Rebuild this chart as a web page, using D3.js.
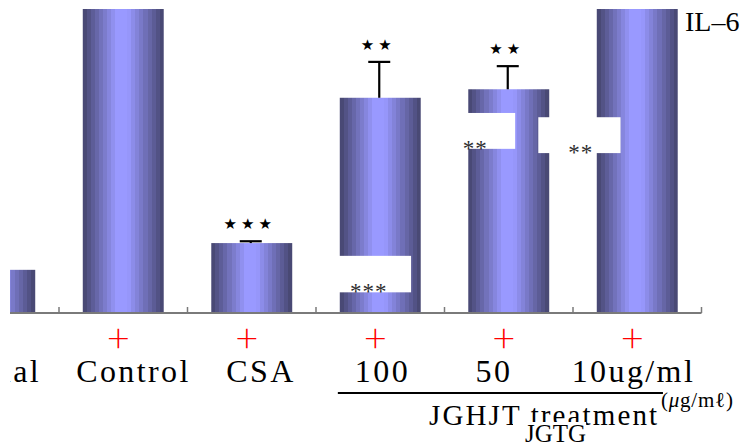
<!DOCTYPE html>
<html>
<head>
<meta charset="utf-8">
<title>IL-6</title>
<script src="https://cdn.jsdelivr.net/npm/d3@7"></script>
<style>
body { margin: 0; background: #fff; }
svg text { font-family: "Liberation Serif", "Times New Roman", serif; }
</style>
</head>
<body>
<svg id="chart" width="742" height="448"></svg>
<script>
// IL-6 levels (no y axis is shown, so arbitrary units)
var categories = ["Normal", "Control", "CSA", "100", "50", "10ug/ml"];
var il6 = [71, 600, 115, 354, 368, 560];
var il6Err = [0, 0, 3, 59, 38, 0];
var sigTop = ["", "", "***", "**", "**", ""];
var stimulated = ["", "+", "+", "+", "+", "+"];

var W = 742, H = 448;
var baseY = 313, topY = 9, leftX = 10;

var svg = d3.select("#chart");

var x = d3.scaleBand().domain(categories).range([-69.5, 701.5]).padding(0);
var y = d3.scaleLinear().domain([0, 500]).range([baseY, topY]);
var bw = x.bandwidth();
var barW = bw * 0.63;
function cx(c) { return x(c) + bw / 2; }

// cylinder-ish stepped shading
var defs = svg.append("defs");
var grad = defs.append("linearGradient").attr("id", "cyl")
  .attr("x1", 0).attr("x2", 1).attr("y1", 0).attr("y2", 0);
var shade = d3.interpolateRgb("#44446c", "#9999ff");
var steps = 20;
for (var i = 0; i < steps; i++) {
  var t = (i + 0.5) / steps;
  var f = t < 0.42 ? t / 0.42 : (t > 0.56 ? (1 - t) / 0.44 : 1);
  var col = shade(f);
  grad.append("stop").attr("offset", i / steps).attr("stop-color", col);
  grad.append("stop").attr("offset", (i + 1) / steps).attr("stop-color", col);
}
// the figure is cropped on the left at x=10
defs.append("clipPath").attr("id", "plot").append("rect")
  .attr("x", leftX).attr("y", topY).attr("width", W - leftX).attr("height", baseY - topY);
defs.append("clipPath").attr("id", "crop").append("rect")
  .attr("x", leftX).attr("y", 0).attr("width", W - leftX).attr("height", H);

var rows = categories.map(function(c, i) {
  return {cat: c, v: il6[i], e: il6Err[i], sig: sigTop[i], plus: stimulated[i]};
});

// bars
svg.append("g").attr("clip-path", "url(#plot)")
  .selectAll("rect").data(rows).enter().append("rect")
  .attr("x", function(d) { return cx(d.cat) - barW / 2; })
  .attr("y", function(d) { return y(d.v); })
  .attr("width", barW)
  .attr("height", function(d) { return baseY - y(d.v); })
  .attr("fill", "url(#cyl)");

// error bars (upper only)
var eb = svg.append("g").attr("stroke", "#000").attr("stroke-width", 2.2)
  .selectAll("g").data(rows.filter(function(d) { return d.e > 0; })).enter().append("g");
eb.append("line")
  .attr("x1", function(d) { return cx(d.cat) - 1; }).attr("x2", function(d) { return cx(d.cat) - 1; })
  .attr("y1", function(d) { return y(d.v); }).attr("y2", function(d) { return y(d.v + d.e); });
eb.append("line")
  .attr("x1", function(d) { return cx(d.cat) - 12; }).attr("x2", function(d) { return cx(d.cat) + 10; })
  .attr("y1", function(d) { return y(d.v + d.e); }).attr("y2", function(d) { return y(d.v + d.e); });

// stars over error bars
svg.append("g").selectAll("text").data(rows.filter(function(d) { return d.sig; })).enter().append("text")
  .attr("x", function(d) { return cx(d.cat) - 2; })
  .attr("y", function(d) { return y(d.v + d.e) - 12; })
  .attr("text-anchor", "middle")
  .style("font-family", "DejaVu Sans")
  .style("font-size", "15px")
  .style("letter-spacing", "4px")
  .text(function(d) { return d.sig.replace(/\*/g, "\u2605"); });

// axis line + ticks between categories
svg.append("line")
  .attr("x1", leftX).attr("x2", x(categories[categories.length - 1]) + bw)
  .attr("y1", baseY).attr("y2", baseY)
  .attr("stroke", "#7a7a7a").attr("stroke-width", 2);
var tickX = categories.slice(1).map(function(c) { return x(c); });
tickX.push(x(categories[categories.length - 1]) + bw);
svg.append("g").selectAll("line").data(tickX).enter().append("line")
  .attr("x1", function(d) { return d; }).attr("x2", function(d) { return d; })
  .attr("y1", baseY).attr("y2", baseY - 6)
  .attr("stroke", "#7a7a7a").attr("stroke-width", 1.5);

// white patches pasted over the bars, each with its own small stars
var masks = [
  {cat: "100", x0: 0.17, x1: 0.74, v0: 94, v1: 34, sx: 0.41, stars: "***"},
  {cat: "50", x0: 0.11, x1: 0.55, v0: 329, v1: 270, sx: 0.24, stars: "**"},
  {cat: "10ug/ml", x0: -0.27, x1: 0.37, v0: 322, v1: 263, sx: 0.06, stars: "**"}
];
var mg = svg.append("g").selectAll("g").data(masks).enter().append("g");
mg.append("rect")
  .attr("x", function(d) { return x(d.cat) + d.x0 * bw; })
  .attr("y", function(d) { return y(d.v0); })
  .attr("width", function(d) { return (d.x1 - d.x0) * bw; })
  .attr("height", function(d) { return y(d.v1) - y(d.v0); })
  .attr("fill", "#fff");
mg.append("text")
  .attr("x", function(d) { return x(d.cat) + d.sx * bw; })
  .attr("y", function(d) { return y(d.v1) + 7; })
  .attr("text-anchor", "middle")
  .attr("fill", "#2e2e2e")
  .style("font-size", "23px")
  .style("letter-spacing", "1px")
  .text(function(d) { return d.stars; });

// red plus signs (thin)
svg.append("g").selectAll("text").data(rows.filter(function(d) { return d.plus; })).enter().append("text")
  .attr("x", function(d) { return cx(d.cat) - 5; })
  .attr("y", 352)
  .attr("text-anchor", "middle")
  .attr("fill", "#ff0000")
  .style("font-family", "Lato, 'DejaVu Sans', sans-serif")
  .style("font-size", "40px")
  .style("font-weight", "300")
  .text(function(d) { return d.plus; });

// category labels (hand-placed a little off centre in the original)
var labelNudge = {"Normal": -11, "Control": 9, "CSA": 8, "100": 1, "50": -16, "10ug/ml": -5};
svg.append("g").attr("clip-path", "url(#crop)")
  .selectAll("text").data(categories).enter().append("text")
  .attr("x", function(d) { return cx(d) + 1.2 + labelNudge[d]; })
  .attr("y", 382)
  .attr("text-anchor", "middle")
  .style("font-size", "32px")
  .style("letter-spacing", "2.4px")
  .text(function(d) { return d; });

// treatment bracket
var ulX0 = x("100") + 0.17 * bw, ulX1 = x("10ug/ml") + 0.7 * bw;
svg.append("line").attr("x1", ulX0).attr("x2", ulX1).attr("y1", 393).attr("y2", 393)
  .attr("stroke", "#000").attr("stroke-width", 2);
var unit = svg.append("text").attr("x", ulX1 - 2).attr("y", 407)
  .style("font-size", "21px").attr("textLength", 72);
unit.append("tspan").text("(");
unit.append("tspan").style("font-style", "italic").text("\u03bc");
unit.append("tspan").text("g/m\u2113)");

svg.append("text").attr("x", x("100") + 0.88 * bw).attr("y", 425)
  .style("font-size", "29px").attr("textLength", 228).attr("lengthAdjust", "spacing")
  .text("JGHJT treatment");

var jg = svg.append("text").attr("x", 525).attr("y", 442)
  .style("font-size", "25px").text("JGTG");
var bb = jg.node().getBBox();
svg.insert("rect", function() { return jg.node(); })
  .attr("x", bb.x - 12).attr("y", 422).attr("width", bb.width + 12).attr("height", H - 422)
  .attr("fill", "#fff");

svg.append("text").attr("x", W - 57).attr("y", 31)
  .style("font-size", "28px").text("IL\u20136");
</script>
</body>
</html>
